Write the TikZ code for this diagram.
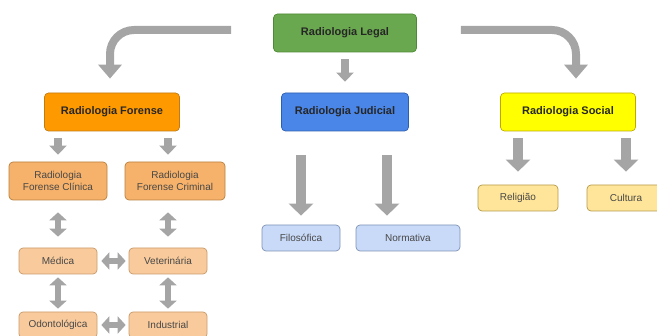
\documentclass[tikz,border=0pt]{standalone}
\usepackage{fontspec}
\setmainfont{Liberation Sans}
\usetikzlibrary{arrows.meta}

\definecolor{arrowgray}{HTML}{A5A5A5}
\definecolor{legalfill}{HTML}{6AA84F}
\definecolor{legaldraw}{HTML}{4E8A35}
\definecolor{forfill}{HTML}{FF9900}
\definecolor{fordraw}{HTML}{C27A12}
\definecolor{judfill}{HTML}{4A86E8}
\definecolor{juddraw}{HTML}{2E5FAE}
\definecolor{socfill}{HTML}{FFFF00}
\definecolor{socdraw}{HTML}{BFA900}
\definecolor{midfill}{HTML}{F6B26B}
\definecolor{middraw}{HTML}{B8803F}
\definecolor{leaffill}{HTML}{F9CB9C}
\definecolor{leafdraw}{HTML}{C9996A}
\definecolor{bluefill}{HTML}{C9DAF8}
\definecolor{bluedraw}{HTML}{7F93B5}
\definecolor{yelfill}{HTML}{FFE599}
\definecolor{yeldraw}{HTML}{B59A4A}

\begin{document}
\begin{tikzpicture}[x=1pt, y=-1pt, line width=0.7pt,
  topbox/.style={draw, rounded corners=4pt, minimum height=38pt, font=\fontsize{11}{13}\selectfont\bfseries, text=black!85},
  midbox/.style={draw=middraw, fill=midfill, rounded corners=4pt, minimum height=38pt, align=center, font=\fontsize{10}{12}\selectfont, text=black!72},
  leafbox/.style={draw, rounded corners=4pt, minimum width=78pt, minimum height=26pt, font=\fontsize{10}{12}\selectfont, text=black!72},
  bigarrow/.style={arrowgray, line width=8pt, rounded corners=24pt, -{Triangle[width=23pt, length=14pt]}},
  downarrow/.style={arrowgray, line width=10pt, -{Triangle[width=24pt, length=12pt]}},
  smallarrow/.style={arrowgray, line width=8pt, -{Triangle[width=17pt, length=9pt]}},
  twoway/.style={arrowgray, line width=6.5pt, {Triangle[width=17pt, length=8pt]}-{Triangle[width=17pt, length=8pt]}}]
\useasboundingbox (0,0) rectangle (657,336);

% top of the tree and its three branches
\node[topbox, fill=legalfill, draw=legaldraw, minimum width=143pt] (legal) at (345,33) {Radiologia Legal};
\node[topbox, fill=forfill, draw=fordraw, minimum width=135pt] (forense) at (112,112) {Radiologia Forense};
\node[topbox, fill=judfill, draw=juddraw, minimum width=127pt] (judicial) at (345,112) {Radiologia Judicial};
\node[topbox, fill=socfill, draw=socdraw, minimum width=135pt] (social) at (568,112) {Radiologia Social};

\draw[bigarrow, shorten >=14pt] ([xshift=-42pt, yshift=3pt]legal.west) -| ([xshift=-2pt]forense.north);
\draw[bigarrow, shorten >=14pt] ([xshift=44pt, yshift=3pt]legal.east) -| ([xshift=8pt]social.north);
\draw[smallarrow, shorten <=7pt, shorten >=11pt] (legal.south) -- (judicial.north);

% forense side
\node[midbox, minimum width=98pt] (clinica) at (58,181) {Radiologia\\Forense Clínica};
\node[midbox, minimum width=100pt] (criminal) at (175,181) {Radiologia\\Forense Criminal};
\node[leafbox, fill=leaffill, draw=leafdraw] (medica) at (58,261) {Médica};
\node[leafbox, fill=leaffill, draw=leafdraw] (veterinaria) at (168,261) {Veterinária};
\node[leafbox, fill=leaffill, draw=leafdraw] (odonto) at (58,325) {Odontológica};
\node[leafbox, fill=leaffill, draw=leafdraw] (industrial) at (168,325) {Industrial};

\draw[smallarrow, shorten <=7pt, shorten >=7pt] (clinica.north |- forense.south) -- (clinica.north);
\draw[smallarrow, shorten <=7pt, shorten >=7pt] (veterinaria.north |- forense.south) -- (veterinaria.north |- criminal.north);
\draw[twoway, shorten <=12pt, shorten >=11pt] (clinica.south) -- (medica.north);
\draw[twoway, shorten <=12pt, shorten >=11pt] (veterinaria.north |- criminal.south) -- (veterinaria.north);
\draw[twoway, shorten <=3pt, shorten >=3pt] (medica.south) -- (odonto.north);
\draw[twoway, shorten <=3pt, shorten >=3pt] (veterinaria.south) -- (industrial.north);
\draw[twoway, shorten <=4pt, shorten >=3pt] (medica.east) -- (veterinaria.west);
\draw[twoway, shorten <=4pt, shorten >=3pt] (odonto.east) -- (industrial.west);

% judicial side
\node[leafbox, fill=bluefill, draw=bluedraw] (filosofica) at (301,238) {Filosófica};
\node[leafbox, fill=bluefill, draw=bluedraw, minimum width=104pt] (normativa) at (408,238) {Normativa};
\coordinate (normtop) at ([xshift=-21pt]normativa.north);
\draw[downarrow, shorten <=24pt, shorten >=9pt] (filosofica.north |- judicial.south) -- (filosofica.north);
\draw[downarrow, shorten <=24pt, shorten >=9pt] (normtop |- judicial.south) -- (normtop);

% social side
\node[leafbox, fill=yelfill, draw=yeldraw, minimum width=80pt] (religiao) at (518,198) {Religião};
\node[leafbox, fill=yelfill, draw=yeldraw] (cultura) at (626,198) {Cultura};
\draw[downarrow, shorten <=7pt, shorten >=13pt] (religiao.north |- social.south) -- (religiao.north);
\draw[downarrow, shorten <=7pt, shorten >=13pt] (cultura.north |- social.south) -- (cultura.north);
\end{tikzpicture}
\end{document}
